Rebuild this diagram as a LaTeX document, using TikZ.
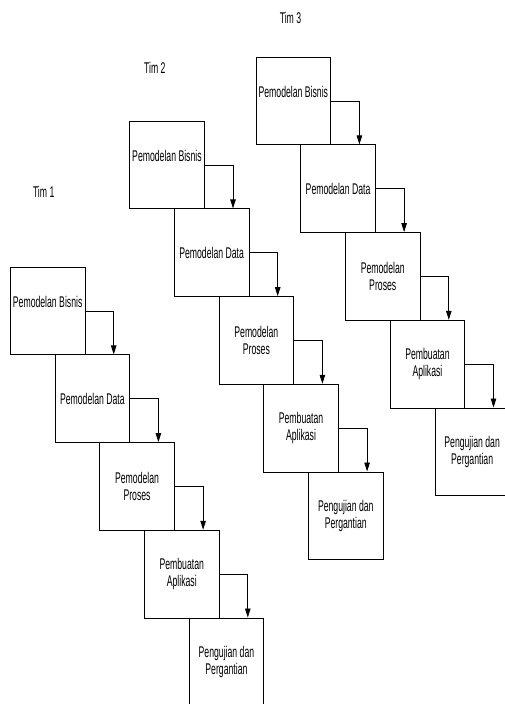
\documentclass[tikz,border=0pt]{standalone}
\usepackage{fontspec}
\setmainfont{Liberation Sans}[FakeStretch=0.56]
\usetikzlibrary{arrows.meta}
\begin{document}
\begin{tikzpicture}[x=1pt,y=-1pt,
  box/.style={draw=black, line width=0.8pt, minimum width=74.5pt, minimum height=87.7pt,
    inner sep=0pt, anchor=north west, align=center, font=\fontsize{15.5}{17.5}\selectfont},
  flow/.style={draw=black, line width=0.8pt, -{Triangle[width=5.5pt,length=9pt]}},
  team/.style={inner sep=0pt, font=\fontsize{15.5}{17.5}\selectfont}]
\useasboundingbox (0,0) rectangle (505,704);
\clip (0,0) rectangle (505,704);
\node[team] (tim1) at (43.7,191.7) {Tim 1};
\node[team] (tim2) at (154.8,68.3) {Tim 2};
\node[team] (tim3) at (290.5,18.3) {Tim 3};
\foreach \t/\ox/\oy in {1/10/266.7, 2/129.3/120.7, 3/255.7/56.7} {
  \node[box] (t\t b1) at (\ox,\oy) {\raisebox{3.4pt}[0pt][0pt]{Pemodelan Bisnis}};
  \node[box] (t\t b2) at (\ox+44.7,\oy+87.7) {Pemodelan Data};
  \node[box] (t\t b3) at (\ox+89.4,\oy+175.4) {Pemodelan\\Proses};
  \node[box] (t\t b4) at (\ox+134.1,\oy+263.1) {Pembuatan\\Aplikasi};
  \node[box] (t\t b5) at (\ox+178.8,\oy+350.8) {Pengujian dan\\Pergantian};
  \foreach \i/\j in {1/2,2/3,3/4,4/5}
    \draw[flow] (t\t b\i.east) -| ([xshift=59pt]t\t b\j.north west);
}
\end{tikzpicture}
\end{document}
